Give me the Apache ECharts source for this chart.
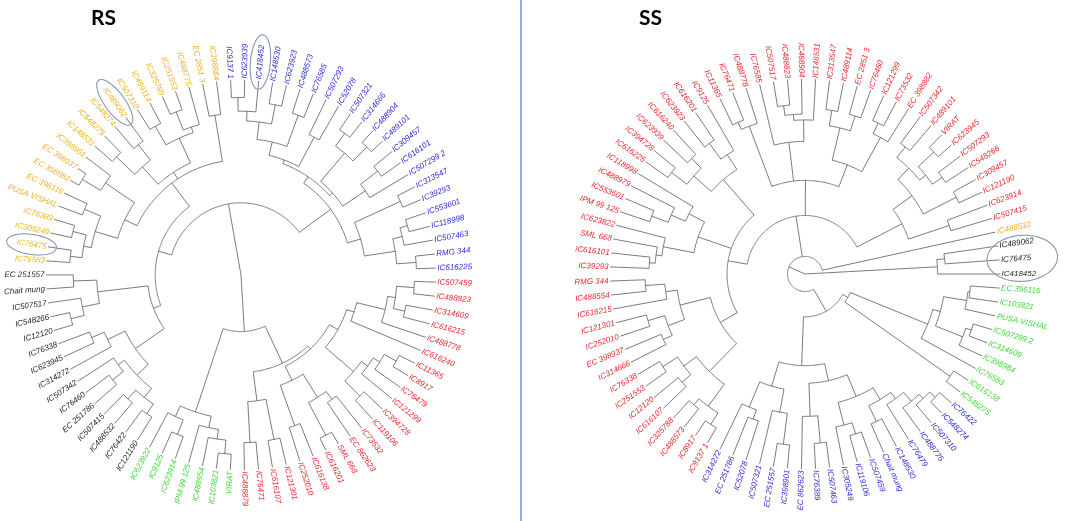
<!DOCTYPE html>
<html>
<head>
<meta charset="utf-8">
<title>RS / SS circular dendrograms</title>
<script src="https://cdn.jsdelivr.net/npm/echarts/dist/echarts.min.js"></script>
<style>
html,body{margin:0;padding:0;background:#ffffff;}
#chart{width:1065px;height:521px;}
</style>
</head>
<body>
<div id="chart"></div>
<script>
// ---------------- DATA ----------------
// node = [radial position of the join (0 = centre, 100 = leaf tips), child, child, ...]; leaf = label text

// RS tree clusters
const rsBlack = [48,
  [66, [74, [80, [86, 'IC121190', 'IC76422'], [86, 'IC488532', 'IC507415']], [78, [85, 'EC 251786', 'IC76460'], 'IC507342']],
       [76, 'IC314272', [83, 'IC623945', 'IC76338']]],
  [74, [83, [90, 'IC12120', 'IC548266'], 'IC507517'], [86, 'Chait mung', 'EC 251557']]
];
const rsYellow = [59,
  [66, [78, [82, [88, 'IC76583', 'IC76475'], [89, 'IC305249', 'IC76389']], [87, 'PUSA VISHAL', 'EC 396116']],
       [84, [95, 'EC 398882', 'EC 398937'], 'IC398901']],
  [63, [75, [88, 'IC148531', 'IC548275'], [85, 'IC548274', 'IC489062']],
       [77, [88, 'IC507310', 'IC489114'], [80, [90, 'IC325789', 'IC251553'], 'IC488775']]],
  [83, 'EC 2851 3', 'IC398884']
];
const rsBlue = [57,
  [61,
    [63, [70, [79, [84, [91, 'IC9137 1', 'IC623939'], 'IC418452'], [89, 'IC148530', 'IC623923']], [87, 'IC488573', 'IC76585']],
         [80, 'IC507293', 'IC52078']],
    [63, [82, [90, 'IC507321', 'IC314666'], [92, 'IC488904', 'IC489101']], [77, [88, 'IC309457', 'IC616101'], 'IC507299 2']]
  ],
  [64, [90, 'IC313547', 'IC39293'], [80, [85, [89, 'IC553601', 'IC118998'], 'IC507463'], [90, 'RMG 344', 'IC616225']]]
];
const rsRed = [50,
  [52,
    [57, [61, [76, [80, [89, 'IC507459', 'IC488823'], [86, 'IC314609', 'IC616215']], 'IC488778'], 'IC616240'],
         [76, [80, [84, [91, 'IC11365', 'IC8917'], 'IC76479'], 'IC121299'], [87, 'IC394728', 'IC119106']]],
    [60, [74, [79, 'IC73532', 'EC 862623'], [93, 'SML 668', 'IC616201']], [82, 'IC616138', 'IC252010']]
  ],
  [65, [86, 'IC121301', 'IC616107'], [86, 'IC76471', 'IC488879']]
];
const rsGreen = [74,
  [80, [85, [92, 'VIRAT', 'IC103821'], 'IC488554'], 'IPM 99 125'],
  [80, [88, 'IC623914', 'IC9125'], 'IC623922']
];
const rsTree = [0, [37, [44, rsBlack, rsYellow], rsBlue], [29, rsRed, rsGreen]];
const rsCircled = [['IC76475'], ['IC489062'], ['IC418452']];

// SS tree clusters
const ssGreen = [25,
  [68, [72, [84, [85, 'EC 396116', 'IC103821'], 'PUSA VISHAL'], [87, [90, 'IC507299 2', 'IC314609'], 'IC398984']], 'IC76583'],
  [91, 'IC616138', 'IC548275']
];
const ssBlue = [47,
  [56,
    [68, [75, [79, [85, [88, [92, 'IC76422', 'IC548274'], 'IC507310'], 'IC488775'], 'IC76479'], [84, 'IC148530', 'Chait mung']],
         [80, [86, 'IC507459', 'IC119106'], 'IC305249']],
    [73, [87, 'IC507463', 'IC76389'], 'EC 862623']
  ],
  [60, [72, [88, 'IC398901', 'EC 251557'], 'IC507321'], [74, [79, 'IC52078', 'EC 251786'], 'IC314272']]
];
const ssRed = [30,
  [40,
    [50, [70, [84, [91, 'IC9137 1', 'IC8917'], [88, 'IC488573', 'IC325788']], [78, [84, 'IC616107', 'IC12120'], [87, 'IC251553', 'IC76338']]],
         [66, [75, [80, 'IC314666', 'EC 398937'], [84, 'IC252010', 'IC121301']], [72, 'IC616215', [82, 'IC488554', 'RMG 344']]]],
    [58, [74, [77, [80, 'IC39293', 'IC616101'], 'SML 668'], 'IC623822'],
         [67, [75, [84, 'IPM 99 125', 'IC553601'], 'IC488979'], 'IC118998']],
    [64, [76, [86, 'IC616225', 'IC394728'], [83, 'IC623939', 'IC616240']],
         [73, [83, 'IC623923', 'IC616201'], 'IC9125']]
  ],
  [48,
    [81, [85, 'IC11365', 'IC76471'], 'IC488778'],
    [68, 'IC76585', [79, [82, [87, 'IC507517', 'IC488823'], 'IC488904'], 'IC148531']],
    [60, [77, [85, 'IC313547', 'IC489114'], [85, 'EC 2851 3', 'IC76460']], [80, [86, 'IC121299', 'IC73532'], 'EC 398882']]
  ],
  [56,
    [68, [76, [83, 'IC507342', 'IC489101'], [80, [91, 'VIRAT', 'IC623945'], [86, 'IC507293', 'IC548266']]], [87, 'IC309457', 'IC121190']],
    [78, 'IC623914', 'IC507415']
  ]
];
const ssYellow = 'IC488532';
const ssBlack = [68, [72, 'IC489062', 'IC76475'], 'IC418452'];
const ssTree = [0, [9, [22, ssGreen, ssBlue], ssRed, ssYellow], ssBlack];
const ssCircled = [['IC489062', 'IC76475', 'IC418452']];

// ---------------- STYLE ----------------
const YELLOW = '#F0B323', BLUE = '#2B2BD6', RED = '#E8262D', GREEN = '#3FD83A', BLACK = '#1E1E1E';
const LINE_COLOR = '#5a5a5a', LINE_W = 0.8;
const LABEL_FONT = 'italic 8px "Liberation Sans", Arial, sans-serif';
const LEAF_R = 100, GAP = 1.5;
const N_RS = 87, N_SS = 87;

// ---------------- HELPERS ----------------
function flatten(node, out) {
  if (typeof node === 'string') out.push(node);
  else node.slice(1).forEach(function (n) { flatten(n, out); });
  return out;
}
function layoutTree(tree) {
  const leaves = [], segs = [];
  (function walk(node) {
    if (typeof node === 'string') { leaves.push(node); return { a: leaves.length - 1, r: LEAF_R }; }
    const r = node[0];
    const kids = node.slice(1).map(walk);
    const a0 = kids[0].a, a1 = kids[kids.length - 1].a;
    if (a1 !== a0) segs.push([0, r, a0, a1]);
    kids.forEach(function (k) { segs.push([1, k.a, r, k.r]); });
    return { a: (a0 + a1) / 2, r: r };
  })(tree);
  return { leaves: leaves, segs: segs };
}
function colorMap(groups) {
  const m = {};
  groups.forEach(function (g) { flatten(g[0], []).forEach(function (n) { m[n] = g[1]; }); });
  return m;
}
const mctx = document.createElement('canvas').getContext('2d');
mctx.font = LABEL_FONT;
function textW(s) { return mctx.measureText(s).width; }

function geom(api, i) {
  const c = api.coord([0, i]);
  const t = api.coord([LEAF_R, i]);
  const dx = t[0] - c[0], dy = t[1] - c[1];
  const L = Math.hypot(dx, dy) || 1;
  return { t: t, ux: dx / L, uy: dy / L };
}

function treeSeries(pi, lay, colors, circled) {
  const idx = {};
  lay.leaves.forEach(function (n, i) { idx[n] = i; });
  return [
    {
      type: 'custom', coordinateSystem: 'polar', polarIndex: pi, clip: false, silent: true,
      data: lay.segs,
      renderItem: function (params, api) {
        const k = api.value(0);
        if (k === 0) {
          const r = api.value(1), a0 = api.value(2), a1 = api.value(3);
          const n = Math.max(2, Math.ceil(Math.abs(a1 - a0) * 6));
          const pts = [];
          for (let j = 0; j <= n; j++) pts.push(api.coord([r, a0 + (a1 - a0) * j / n]));
          return { type: 'polyline', shape: { points: pts }, style: { stroke: LINE_COLOR, lineWidth: LINE_W, fill: 'none' } };
        }
        const a = api.value(1);
        const p0 = api.coord([api.value(2), a]), p1 = api.coord([api.value(3), a]);
        return { type: 'line', shape: { x1: p0[0], y1: p0[1], x2: p1[0], y2: p1[1] }, style: { stroke: LINE_COLOR, lineWidth: LINE_W } };
      }
    },
    {
      type: 'custom', coordinateSystem: 'polar', polarIndex: pi, clip: false, silent: true,
      data: lay.leaves.map(function (n, i) { return [LEAF_R, i]; }),
      renderItem: function (params, api) {
        const name = lay.leaves[params.dataIndex];
        const g = geom(api, api.value(1));
        const x = g.t[0] + g.ux * GAP, y = g.t[1] + g.uy * GAP;
        const ang = Math.atan2(-g.uy, g.ux);
        let rot = ang, align = 'left';
        if (g.ux < -1e-6) { rot = ang - Math.PI; align = 'right'; }
        return {
          type: 'text', x: x, y: y, rotation: rot,
          style: { text: name, fill: colors[name] || BLACK, font: LABEL_FONT, align: align, verticalAlign: 'middle' }
        };
      }
    },
    {
      type: 'custom', coordinateSystem: 'polar', polarIndex: pi, clip: false, silent: true,
      data: circled.map(function (grp) { return [LEAF_R, idx[grp[Math.floor(grp.length / 2)]]]; }),
      renderItem: function (params, api) {
        const grp = circled[params.dataIndex];
        const w = Math.max.apply(null, grp.map(textW));
        const g = geom(api, api.value(1));
        const extra = grp.length > 1 ? 4 : 0;
        const d = GAP + w / 2 + extra;
        const cx = g.t[0] + g.ux * d, cy = g.t[1] + g.uy * d;
        const rx = w / 2 + 10 + extra * 2, ry = 10 + (grp.length - 1) * 6.5;
        const vx = -g.uy, vy = g.ux;
        const pts = [];
        for (let j = 0; j < 60; j++) {
          const f = j / 60 * Math.PI * 2;
          pts.push([cx + g.ux * rx * Math.cos(f) + vx * ry * Math.sin(f), cy + g.uy * rx * Math.cos(f) + vy * ry * Math.sin(f)]);
        }
        return { type: 'polygon', shape: { points: pts }, style: { stroke: '#8497B5', lineWidth: 1.1, fill: 'none' } };
      }
    }
  ];
}

// ---------------- BUILD ----------------
const rsLay = layoutTree(rsTree);
const ssLay = layoutTree(ssTree);
const rsColors = colorMap([[rsYellow, YELLOW], [rsBlue, BLUE], [rsRed, RED], [rsGreen, GREEN], [rsBlack, BLACK]]);
const ssColors = colorMap([[ssRed, RED], [ssYellow, YELLOW], [ssBlack, BLACK], [ssGreen, GREEN], [ssBlue, BLUE]]);

const chart = echarts.init(document.getElementById('chart'), null, { renderer: 'canvas' });
chart.setOption({
  animation: false,
  backgroundColor: '#ffffff',
  title: [
    { text: 'RS', left: 86, top: 3, textStyle: { fontFamily: 'Lato', fontWeight: 'bold', fontSize: 21, color: '#000' } },
    { text: 'SS', left: 634, top: 3, textStyle: { fontFamily: 'Lato', fontWeight: 'bold', fontSize: 21, color: '#000' } }
  ],
  polar: [
    { center: [241, 275], radius: 195 },
    { center: [805, 274], radius: 195 }
  ],
  angleAxis: [
    { polarIndex: 0, type: 'value', min: 0, max: N_RS, startAngle: 237.9, clockwise: true, show: false },
    { polarIndex: 1, type: 'value', min: 0, max: N_SS, startAngle: 355.86, clockwise: true, show: false }
  ],
  radiusAxis: [
    { polarIndex: 0, type: 'value', min: 0, max: LEAF_R, show: false },
    { polarIndex: 1, type: 'value', min: 0, max: LEAF_R, show: false }
  ],
  graphic: [
    { type: 'line', silent: true, shape: { x1: 521, y1: 0, x2: 521, y2: 521 }, style: { stroke: '#4F73CF', lineWidth: 1.2 } }
  ],
  series: treeSeries(0, rsLay, rsColors, rsCircled).concat(treeSeries(1, ssLay, ssColors, ssCircled))
});
</script>
</body>
</html>
